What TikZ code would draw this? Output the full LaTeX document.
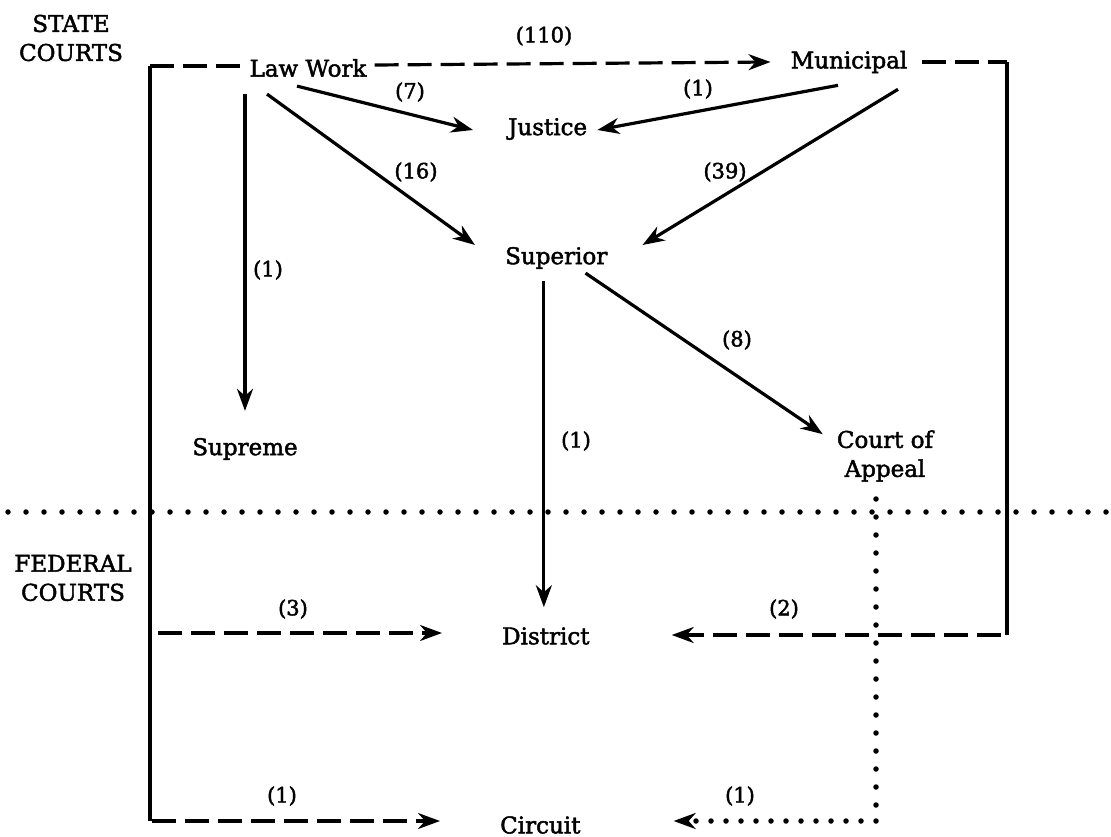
\documentclass[tikz,border=0pt]{standalone}
\usepackage{fontspec}
\setmainfont{DejaVu Serif}[FakeBold=2]
\usetikzlibrary{arrows.meta,calc}
\newcommand{\fsz}{\fontsize{23}{29}\selectfont}
\newcommand{\nsz}{\fontsize{21}{27}\selectfont}
\begin{document}
\begin{tikzpicture}[x=1pt,y=-1pt,
  court/.style={inner sep=0pt, font=\fsz, align=center},
  head/.style={inner sep=0pt, font=\fsz, align=center},
  num/.style={inner sep=0pt, font=\nsz},
  tip/.style={-{Stealth[length=22pt,width=16pt,inset=7pt]}},
  sol/.style={line width=3.2pt},
  arr/.style={sol, tip},
  dsh/.style={line width=3.2pt, dash pattern=on 24pt off 9pt},
  dsharr/.style={dsh, tip},
  dotl/.style={line width=5.5pt, line cap=round, dash pattern=on 0pt off 18pt},
  dotarr/.style={line width=5.5pt, line cap=round, dash pattern=on 0pt off 15pt, tip},
]
\useasboundingbox (0,0) rectangle (1111,837);
% headings
\node[head] (st) at (71,38) {STATE\\COURTS};
\node[head] (fe) at (73,578) {FEDERAL\\COURTS};
% courts
\node[court] (lw) at (308,68) {Law Work};
\node[court] (mu) at (849,62) {Municipal};
\node[court, anchor=west] (ju) at (508,129) {Justice};
\node[court, anchor=west] (su) at (505,258) {Superior};
\node[court] (sp) at (245,449) {Supreme};
\node[court] (ca) at (885,456) {Court of\\Appeal};
\node[court, anchor=west] (di) at (502,636) {District};
\node[court, anchor=west] (ci) at (500,825) {Circuit};
% corner coordinates
\coordinate (tl) at (150,66);
\coordinate (bl) at (150,821);
\coordinate (tr) at (1007,62);
\coordinate (br) at (1007,635);
\coordinate (ct) at (876,499);
\coordinate (cb) at (876,821);
\coordinate (dl) at (8,512);
\coordinate (dr) at (1108,512);
% dotted state/federal boundary
\draw[dotl] (dl) -- (dr);
% left frame
\draw[sol] (tl) -- (bl);
\draw[dsh] (tl) -- ($(lw.west |- tl)+(-8,0)$);
\draw[dsharr] ($(bl|-di)+(8,-3)$) -- ($(di.west)+(-60,-3)$);
\draw[dsharr] ($(bl)+(2,0)$) -- ($(ci.west)+(-60,-4)$);
% right frame
\draw[dsh] ($(mu.east)+(15,0)$) -- (tr);
\draw[sol] (tr) -- (br);
\draw[dsharr] ($(br)+(-6,0)$) -- ($(di.east)+(82,-1)$);
% court of appeal dotted
\draw[dotl] (ct) -- (cb);
\draw[dotarr] (cb) -- ($(ci.east)+(93,-4)$);
% law work arrows
\draw[arr] ($(lw.south -| sp.north)+(0,17)$) -- ($(sp.north)+(0,-27)$);
\draw[arr] ($(lw.south)+(-41,17)$) -- ($(su.west)+(-30,-13)$);
\draw[arr] ($(lw.south)+(-11,9)$) -- ($(ju.west)+(-35,1)$);
\draw[dsharr] ($(lw.east)+(8,-3)$) -- ($(mu.west)+(-20,0)$);
% municipal arrows
\draw[arr] ($(mu.south)+(-11,12)$) -- ($(ju.east)+(10,1)$);
\draw[arr] ($(mu.south)+(49,16)$) -- ($(su.east)+(35,-13)$);
% superior arrows
\draw[arr] ($(su.south -| di.north)+(-2,12)$) -- ($(di.north)+(-2,-20)$);
\draw[arr] ($(su.south east)+(-22,4)$) -- ($(ca.north west)+(-14,4)$);
% counts
\node[num] (n110) at (544,36) {(110)};
\node[num] (n7) at (410,92) {(7)};
\node[num] (n1m) at (698,89) {(1)};
\node[num] (n16) at (416,172) {(16)};
\node[num] (n39) at (725,172) {(39)};
\node[num] (n1s) at (268,270) {(1)};
\node[num] (n8) at (737,340) {(8)};
\node[num] (n1d) at (576,441) {(1)};
\node[num] (n3) at (293,609) {(3)};
\node[num] (n2) at (784,609) {(2)};
\node[num] (n1c) at (282,796) {(1)};
\node[num] (n1a) at (740,796) {(1)};
\end{tikzpicture}
\end{document}
